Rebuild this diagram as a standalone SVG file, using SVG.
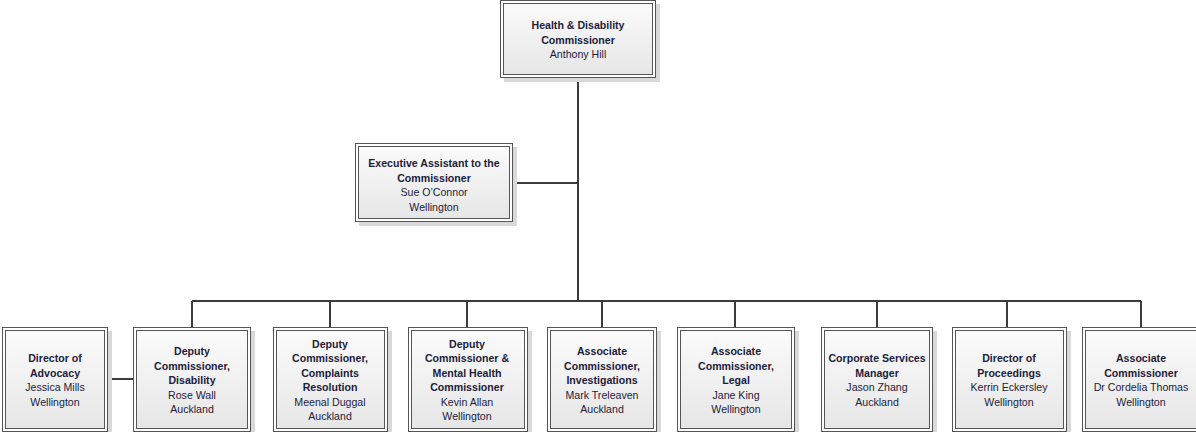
<svg xmlns="http://www.w3.org/2000/svg" width="1196" height="432" viewBox="0 0 1196 432">
<defs>
<linearGradient id="g" x1="0" y1="0" x2="0" y2="1">
<stop offset="0" stop-color="#fbfbfb"/>
<stop offset="1" stop-color="#e6e6e6"/>
</linearGradient>
</defs>
<style>
.sh{fill:#d9d9d9}
.o{fill:#ffffff;stroke:#555555;stroke-width:1}
.i{fill:url(#g);stroke:#555555;stroke-width:1}
text{font-family:"Liberation Sans",Arial,sans-serif;font-size:10.6px;fill:#1c1c3c;text-anchor:middle}
.b{font-weight:bold}
.c{fill:none;stroke:#3c3c3c;stroke-width:2}
</style>
<rect width="1196" height="432" fill="#ffffff"/>
<g id="connectors">
<path class="c" d="M578 78V301M513 183H578M192 301H1141M192 301V327M330 301V327M467 301V327M602 301V327M735 301V327M877 301V327M1007 301V327M1141 301V327M108 379H133"/>
</g>
<g id="n-commissioner">
<rect class="sh" x="504" y="4" width="156" height="78"/>
<rect class="o" x="500.5" y="0.5" width="155" height="77"/>
<rect class="i" x="503.5" y="3.5" width="149" height="71"/>
<text x="578" class="b" y="29">Health &amp; Disability</text>
<text x="578" class="b" y="43.5">Commissioner</text>
<text x="578" y="58">Anthony Hill</text>
</g>
<g id="n-exec">
<rect class="sh" x="359" y="147" width="158" height="79"/>
<rect class="o" x="355.5" y="143.5" width="157" height="78"/>
<rect class="i" x="358.5" y="146.5" width="151" height="72"/>
<text x="434" class="b" y="167">Executive Assistant to the</text>
<text x="434" class="b" y="181.5">Commissioner</text>
<text x="434" y="196">Sue O’Connor</text>
<text x="434" y="210.5">Wellington</text>
</g>
<g id="n-advocacy">
<rect class="sh" x="6" y="331" width="106" height="104"/>
<rect class="o" x="2.5" y="327.5" width="105" height="104"/>
<rect class="i" x="5.5" y="330.5" width="99" height="98"/>
<text x="55" class="b" y="362">Director of</text>
<text x="55" class="b" y="376.5">Advocacy</text>
<text x="55" y="391">Jessica Mills</text>
<text x="55" y="405.5">Wellington</text>
</g>
<g id="n-disability">
<rect class="sh" x="137" y="331" width="118" height="104"/>
<rect class="o" x="133.5" y="327.5" width="117" height="104"/>
<rect class="i" x="136.5" y="330.5" width="111" height="98"/>
<text x="192" class="b" y="355">Deputy</text>
<text x="192" class="b" y="369.5">Commissioner,</text>
<text x="192" class="b" y="384">Disability</text>
<text x="192" y="398.5">Rose Wall</text>
<text x="192" y="413">Auckland</text>
</g>
<g id="n-complaints">
<rect class="sh" x="277" y="331" width="115" height="104"/>
<rect class="o" x="273.5" y="327.5" width="114" height="104"/>
<rect class="i" x="276.5" y="330.5" width="108" height="98"/>
<text x="330" class="b" y="347.5">Deputy</text>
<text x="330" class="b" y="362">Commissioner,</text>
<text x="330" class="b" y="376.5">Complaints</text>
<text x="330" class="b" y="391">Resolution</text>
<text x="330" y="405.5">Meenal Duggal</text>
<text x="330" y="420">Auckland</text>
</g>
<g id="n-mentalhealth">
<rect class="sh" x="412" y="331" width="120" height="104"/>
<rect class="o" x="408.5" y="327.5" width="119" height="104"/>
<rect class="i" x="411.5" y="330.5" width="113" height="98"/>
<text x="467" class="b" y="347.5">Deputy</text>
<text x="467" class="b" y="362">Commissioner &amp;</text>
<text x="467" class="b" y="376.5">Mental Health</text>
<text x="467" class="b" y="391">Commissioner</text>
<text x="467" y="405.5">Kevin Allan</text>
<text x="467" y="420">Wellington</text>
</g>
<g id="n-investigations">
<rect class="sh" x="551" y="331" width="110" height="104"/>
<rect class="o" x="547.5" y="327.5" width="109" height="104"/>
<rect class="i" x="550.5" y="330.5" width="103" height="98"/>
<text x="602" class="b" y="355">Associate</text>
<text x="602" class="b" y="369.5">Commissioner,</text>
<text x="602" class="b" y="384">Investigations</text>
<text x="602" y="398.5">Mark Treleaven</text>
<text x="602" y="413">Auckland</text>
</g>
<g id="n-legal">
<rect class="sh" x="681" y="331" width="118" height="104"/>
<rect class="o" x="677.5" y="327.5" width="117" height="104"/>
<rect class="i" x="680.5" y="330.5" width="111" height="98"/>
<text x="736" class="b" y="355">Associate</text>
<text x="736" class="b" y="369.5">Commissioner,</text>
<text x="736" class="b" y="384">Legal</text>
<text x="736" y="398.5">Jane King</text>
<text x="736" y="413">Wellington</text>
</g>
<g id="n-corporate">
<rect class="sh" x="825" y="331" width="112" height="104"/>
<rect class="o" x="821.5" y="327.5" width="111" height="104"/>
<rect class="i" x="824.5" y="330.5" width="105" height="98"/>
<text x="877" class="b" y="362">Corporate Services</text>
<text x="877" class="b" y="376.5">Manager</text>
<text x="877" y="391">Jason Zhang</text>
<text x="877" y="405.5">Auckland</text>
</g>
<g id="n-proceedings">
<rect class="sh" x="956" y="331" width="115" height="104"/>
<rect class="o" x="952.5" y="327.5" width="114" height="104"/>
<rect class="i" x="955.5" y="330.5" width="108" height="98"/>
<text x="1009" class="b" y="362">Director of</text>
<text x="1009" class="b" y="376.5">Proceedings</text>
<text x="1009" y="391">Kerrin Eckersley</text>
<text x="1009" y="405.5">Wellington</text>
</g>
<g id="n-associate">
<rect class="o" x="1082.5" y="327.5" width="117" height="104"/>
<rect class="i" x="1085.5" y="330.5" width="111" height="98"/>
<text x="1141" class="b" y="362">Associate</text>
<text x="1141" class="b" y="376.5">Commissioner</text>
<text x="1141" y="391">Dr Cordelia Thomas</text>
<text x="1141" y="405.5">Wellington</text>
</g>
</svg>
